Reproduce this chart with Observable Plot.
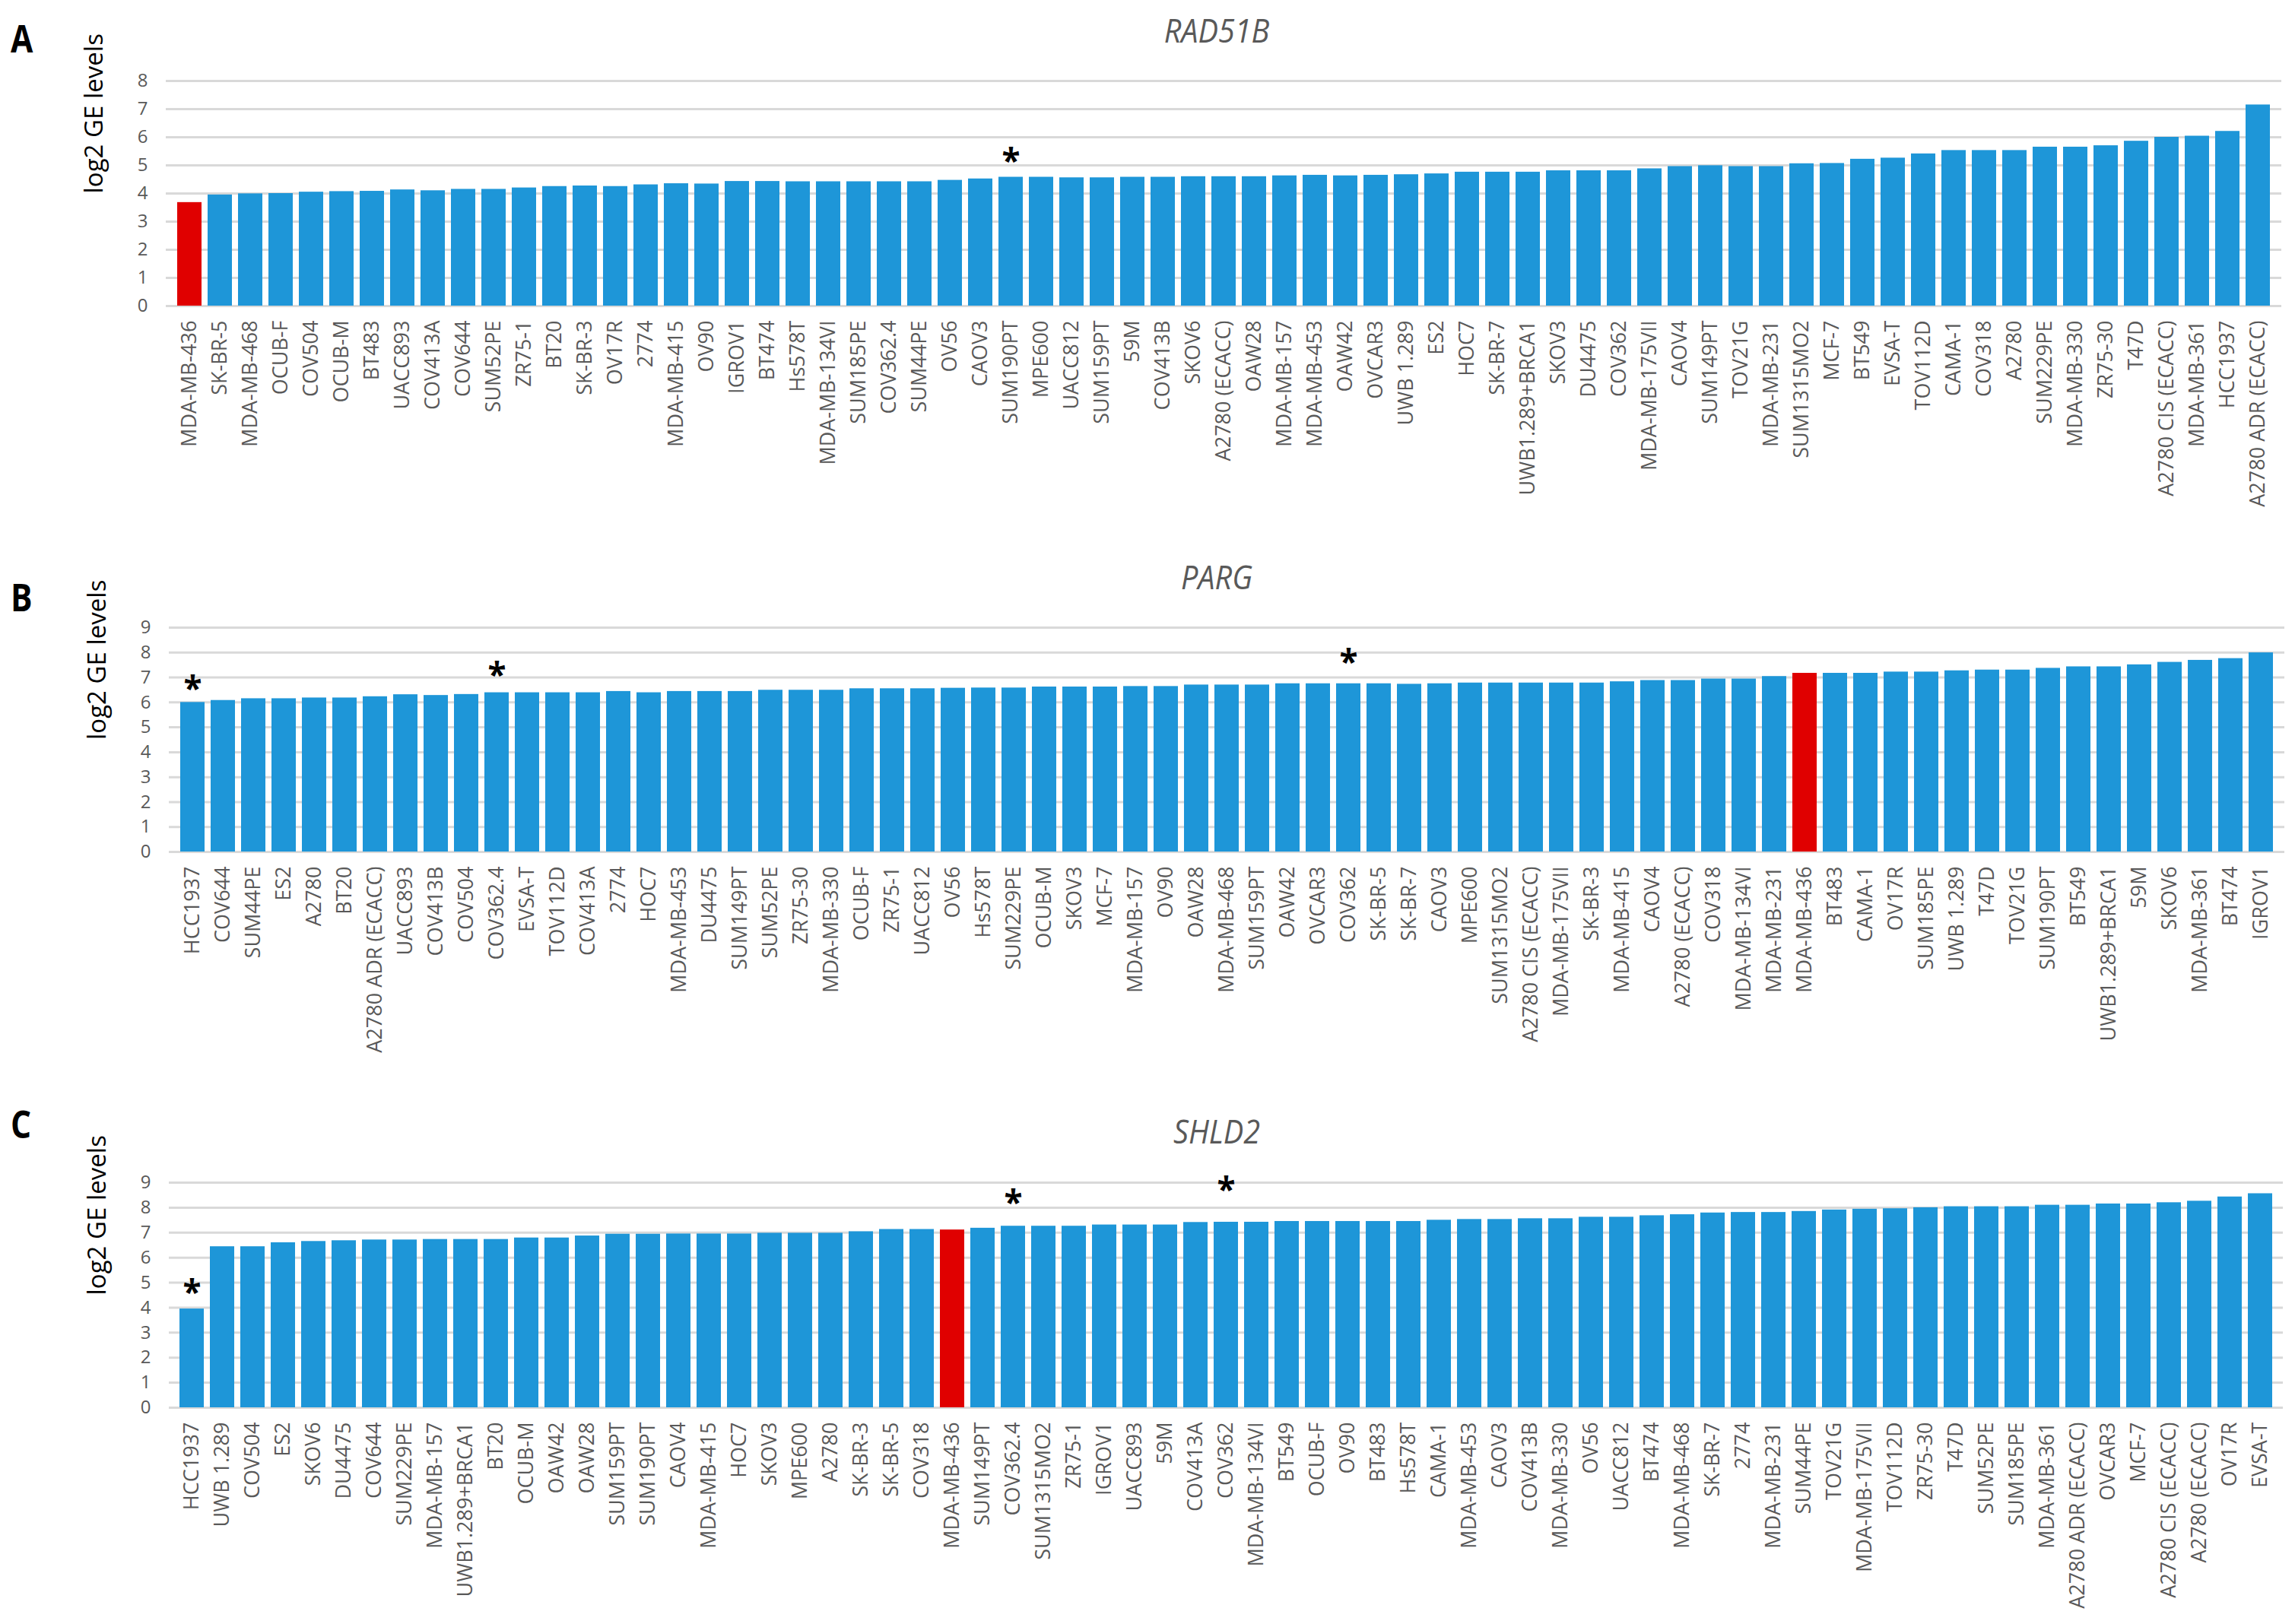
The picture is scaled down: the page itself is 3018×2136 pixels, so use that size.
<!DOCTYPE html>
<html>
<head>
<meta charset="utf-8">
<script src="https://cdn.jsdelivr.net/npm/d3@7"></script>
<script src="https://cdn.jsdelivr.net/npm/@observablehq/plot@0.6"></script>
<style>
  body { margin: 0; background: #fff; }
  #wrap { position: relative; width: 3018px; height: 2136px; overflow: hidden; font-family: "Open Sans", sans-serif; background: #fff; }
  .panel { position: absolute; left: 0; }
  .letter { position: absolute; font-family: "Open Sans", sans-serif; font-weight: bold; font-size: 50px; color: #000; transform: translateY(-50%) scaleX(0.85); transform-origin: left center; line-height: 1; }
  .title { position: absolute; font-family: "Open Sans", sans-serif; font-style: italic; font-size: 44px; color: #595959; transform: translate(-50%, -50%) scaleX(0.9); line-height: 1; white-space: nowrap; }
</style>
</head>
<body>
<div id="wrap"></div>
<script>
// ---------- DATA ----------
const highlight = "MDA-MB-436";

const catsA = ["MDA-MB-436","SK-BR-5","MDA-MB-468","OCUB-F","COV504","OCUB-M","BT483","UACC893","COV413A","COV644","SUM52PE","ZR75-1","BT20","SK-BR-3","OV17R","2774","MDA-MB-415","OV90","IGROV1","BT474",
  "Hs578T","MDA-MB-134VI","SUM185PE","COV362.4","SUM44PE","OV56","CAOV3","SUM190PT","MPE600","UACC812","SUM159PT","59M","COV413B","SKOV6","A2780 (ECACC)","OAW28","MDA-MB-157","MDA-MB-453","OAW42","OVCAR3",
  "UWB 1.289","ES2","HOC7","SK-BR-7","UWB1.289+BRCA1","SKOV3","DU4475","COV362","MDA-MB-175VII","CAOV4","SUM149PT","TOV21G","MDA-MB-231","SUM1315MO2","MCF-7","BT549","EVSA-T","TOV112D","CAMA-1","COV318",
  "A2780","SUM229PE","MDA-MB-330","ZR75-30","T47D","A2780 CIS (ECACC)","MDA-MB-361","HCC1937","A2780 ADR (ECACC)"];
const valsA = [3.68,3.95,3.99,4.0,4.05,4.07,4.08,4.13,4.1,4.15,4.15,4.2,4.25,4.27,4.25,4.31,4.35,4.34,4.43,4.43,
  4.42,4.42,4.42,4.42,4.42,4.47,4.52,4.58,4.58,4.56,4.56,4.58,4.58,4.6,4.6,4.6,4.63,4.65,4.63,4.65,
  4.67,4.7,4.76,4.76,4.76,4.81,4.81,4.81,4.88,4.96,4.99,4.96,4.96,5.06,5.07,5.22,5.26,5.41,5.53,5.53,
  5.53,5.65,5.65,5.7,5.86,6.0,6.04,6.21,7.15];
const starCatsA = ["SUM190PT"];
const starValsA = [5.44];

const catsB = ["HCC1937","COV644","SUM44PE","ES2","A2780","BT20","A2780 ADR (ECACC)","UACC893","COV413B","COV504","COV362.4","EVSA-T","TOV112D","COV413A","2774","HOC7","MDA-MB-453","DU4475","SUM149PT","SUM52PE",
  "ZR75-30","MDA-MB-330","OCUB-F","ZR75-1","UACC812","OV56","Hs578T","SUM229PE","OCUB-M","SKOV3","MCF-7","MDA-MB-157","OV90","OAW28","MDA-MB-468","SUM159PT","OAW42","OVCAR3","COV362","SK-BR-5",
  "SK-BR-7","CAOV3","MPE600","SUM1315MO2","A2780 CIS (ECACC)","MDA-MB-175VII","SK-BR-3","MDA-MB-415","CAOV4","A2780 (ECACC)","COV318","MDA-MB-134VI","MDA-MB-231","MDA-MB-436","BT483","CAMA-1","OV17R","SUM185PE","UWB 1.289","T47D",
  "TOV21G","SUM190PT","BT549","UWB1.289+BRCA1","59M","SKOV6","MDA-MB-361","BT474","IGROV1"];
const valsB = [6.0,6.08,6.15,6.15,6.18,6.18,6.23,6.31,6.28,6.32,6.39,6.39,6.39,6.39,6.44,6.39,6.44,6.44,6.44,6.49,
  6.49,6.49,6.55,6.55,6.55,6.57,6.58,6.58,6.62,6.62,6.62,6.64,6.64,6.70,6.70,6.70,6.75,6.75,6.75,6.75,
  6.73,6.75,6.78,6.78,6.78,6.78,6.78,6.83,6.88,6.88,6.94,6.94,7.04,7.17,7.17,7.17,7.22,7.22,7.27,7.3,
  7.3,7.37,7.43,7.43,7.51,7.61,7.69,7.76,7.99];
const starCatsB = ["HCC1937","COV362.4","COV362"];
const starValsB = [6.88,7.43,7.95];

const catsC = ["HCC1937","UWB 1.289","COV504","ES2","SKOV6","DU4475","COV644","SUM229PE","MDA-MB-157","UWB1.289+BRCA1","BT20","OCUB-M","OAW42","OAW28","SUM159PT","SUM190PT","CAOV4","MDA-MB-415","HOC7","SKOV3",
  "MPE600","A2780","SK-BR-3","SK-BR-5","COV318","MDA-MB-436","SUM149PT","COV362.4","SUM1315MO2","ZR75-1","IGROV1","UACC893","59M","COV413A","COV362","MDA-MB-134VI","BT549","OCUB-F","OV90","BT483",
  "Hs578T","CAMA-1","MDA-MB-453","CAOV3","COV413B","MDA-MB-330","OV56","UACC812","BT474","MDA-MB-468","SK-BR-7","2774","MDA-MB-231","SUM44PE","TOV21G","MDA-MB-175VII","TOV112D","ZR75-30","T47D","SUM52PE",
  "SUM185PE","MDA-MB-361","A2780 ADR (ECACC)","OVCAR3","MCF-7","A2780 CIS (ECACC)","A2780 (ECACC)","OV17R","EVSA-T"];
const valsC = [3.95,6.44,6.44,6.6,6.65,6.68,6.71,6.71,6.73,6.73,6.73,6.79,6.79,6.87,6.94,6.94,6.95,6.95,6.95,6.98,
  6.98,6.98,7.04,7.13,7.13,7.11,7.18,7.26,7.26,7.26,7.31,7.31,7.31,7.41,7.42,7.42,7.45,7.45,7.45,7.45,
  7.45,7.5,7.53,7.53,7.56,7.56,7.62,7.62,7.68,7.72,7.79,7.81,7.81,7.85,7.91,7.94,7.96,8.0,8.04,8.04,
  8.04,8.1,8.1,8.15,8.15,8.2,8.26,8.43,8.56];
const starCatsC = ["HCC1937","COV362.4","COV362"];
const starValsC = [4.93,8.53,9.04];

const yLabel = "log2 GE levels";

// ---------- STYLE ----------
const BLUE = "#1E96D8";
const RED = "#E00000";
const GRID = "#D9D9D9";
const TICK = "#595959";

const wrap = document.getElementById("wrap");

function addPanel(cfg) {
  const data = cfg.cats.map((c, i) => ({cell: c, v: cfg.vals[i], color: c === highlight ? RED : BLUE}));
  const stars = cfg.starCats.map((c, i) => ({cell: c, v: cfg.starVals[i]}));
  const ticks = d3.range(0, cfg.ymax + 1);
  const svg = Plot.plot({
    width: 3018,
    height: cfg.height,
    marginTop: cfg.marginTop,
    marginBottom: cfg.marginBottom,
    marginLeft: cfg.marginLeft,
    marginRight: cfg.marginRight,
    style: {fontFamily: "'Open Sans', sans-serif", background: "transparent", overflow: "visible"},
    x: {domain: cfg.cats, paddingInner: 0.2, paddingOuter: 0.125, label: null},
    y: {domain: [0, cfg.ymax], label: null},
    color: {type: "identity"},
    marks: [
      Plot.ruleY(ticks, {stroke: GRID, strokeWidth: 3}),
      Plot.barY(data, {x: "cell", y: "v", fill: "color"}),
      Plot.text(stars, {x: "cell", y: "v", text: () => "*", fontSize: 44, fontWeight: "bold", fill: "#000", dy: 12}),
      Plot.axisY({ticks, tickSize: 0, tickPadding: 24, fontSize: 24, color: TICK, label: null}),
      Plot.axisX({tickSize: 0, tickPadding: 19, tickRotate: -90, fontSize: 27, color: TICK, label: null}),
      Plot.text([yLabel], {frameAnchor: "left", rotate: -90, dx: -94, fontSize: 33, fill: "#000"})
    ]
  });
  const holder = document.createElement("div");
  holder.className = "panel";
  holder.style.top = cfg.top + "px";
  holder.appendChild(svg);
  wrap.appendChild(holder);

  const letter = document.createElement("div");
  letter.className = "letter";
  letter.textContent = cfg.letter;
  letter.style.left = "14px";
  letter.style.top = cfg.letterY + "px";
  wrap.appendChild(letter);

  const title = document.createElement("div");
  title.className = "title";
  title.textContent = cfg.title;
  title.style.left = "1600px";
  title.style.top = cfg.titleY + "px";
  wrap.appendChild(title);
}

addPanel({cats: catsA, vals: valsA, starCats: starCatsA, starVals: starValsA, ymax: 8,
  top: 0, height: 700, marginTop: 106, marginBottom: 298, marginLeft: 218, marginRight: 18,
  letter: "A", letterY: 50, title: "RAD51B", titleY: 39});
addPanel({cats: catsB, vals: valsB, starCats: starCatsB, starVals: starValsB, ymax: 9,
  top: 700, height: 700, marginTop: 125, marginBottom: 280, marginLeft: 222, marginRight: 14,
  letter: "B", letterY: 785, title: "PARG", titleY: 758});
addPanel({cats: catsC, vals: valsC, starCats: starCatsC, starVals: starValsC, ymax: 9,
  top: 1400, height: 736, marginTop: 155, marginBottom: 285, marginLeft: 222, marginRight: 16,
  letter: "C", letterY: 1478, title: "SHLD2", titleY: 1487});
</script>
</body>
</html>
